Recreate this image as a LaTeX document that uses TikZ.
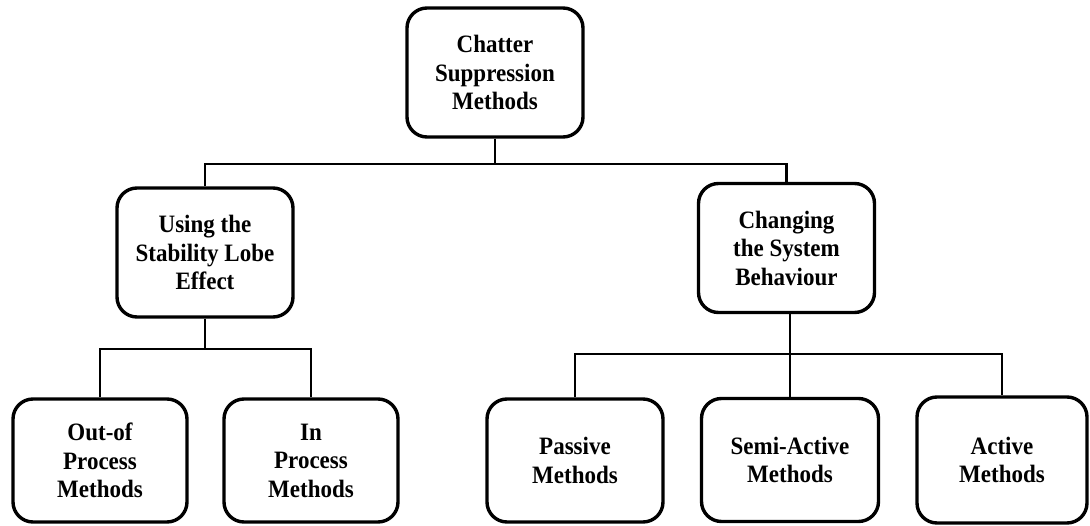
\documentclass[tikz,border=0pt]{standalone}
\usepackage{fontspec}
\setmainfont{Liberation Serif}
\newfontfamily\boxfont{Liberation Serif}[FakeStretch=0.92]
\begin{document}
\begin{tikzpicture}[x=1pt,y=-1pt,
  catbox/.style={draw=black, line width=3.4pt, rounded corners=20pt,
    fill=white, align=center, inner sep=0pt,
    minimum width=176pt, minimum height=129pt,
    font=\boxfont\fontsize{25}{28.5}\selectfont\bfseries},
  leafbox/.style={catbox, minimum height=123pt},
  conn/.style={draw=black, line width=2.2pt}]
\useasboundingbox (0,0) rectangle (1090,526);

% boxes
\node[catbox] (top) at (495,72.5) {Chatter\\Suppression\\Methods};
\node[catbox] (slobe) at (205,252.5) {Using the\\Stability Lobe\\Effect};
\node[catbox] (sysb) at (786.5,248) {Changing\\the System\\Behaviour};

\node[leafbox, minimum width=174pt] (oop) at (100,460.5) {Out-of\\Process\\Methods};
\node[leafbox, minimum width=174pt] (inp) at (311,460.5) {In\\Process\\Methods};
\node[leafbox] (pas) at (575,460.5) {Passive\\Methods};
\node[leafbox, minimum width=177pt] (semi) at (790,460) {Semi-Active\\Methods};
\node[leafbox, minimum width=170pt, minimum height=126pt] (act) at (1002,460) {Active\\Methods};

% bus levels
\coordinate (busTop) at (497,164);
\coordinate (busL) at (208,349);
\coordinate (busR) at (790,354);

% connectors
\draw[conn] (top.south) -- (top.south |- busTop);
\draw[conn] (slobe.north) |- (busTop) -| (sysb.north);

\draw[conn] (slobe.south) -- (slobe.south |- busL);
\draw[conn] (oop.north) |- (busL) -| (inp.north);

\draw[conn] (semi.north) -- (semi.north |- sysb.south);
\draw[conn] (pas.north) |- (busR) -| (act.north);
\end{tikzpicture}
\end{document}
